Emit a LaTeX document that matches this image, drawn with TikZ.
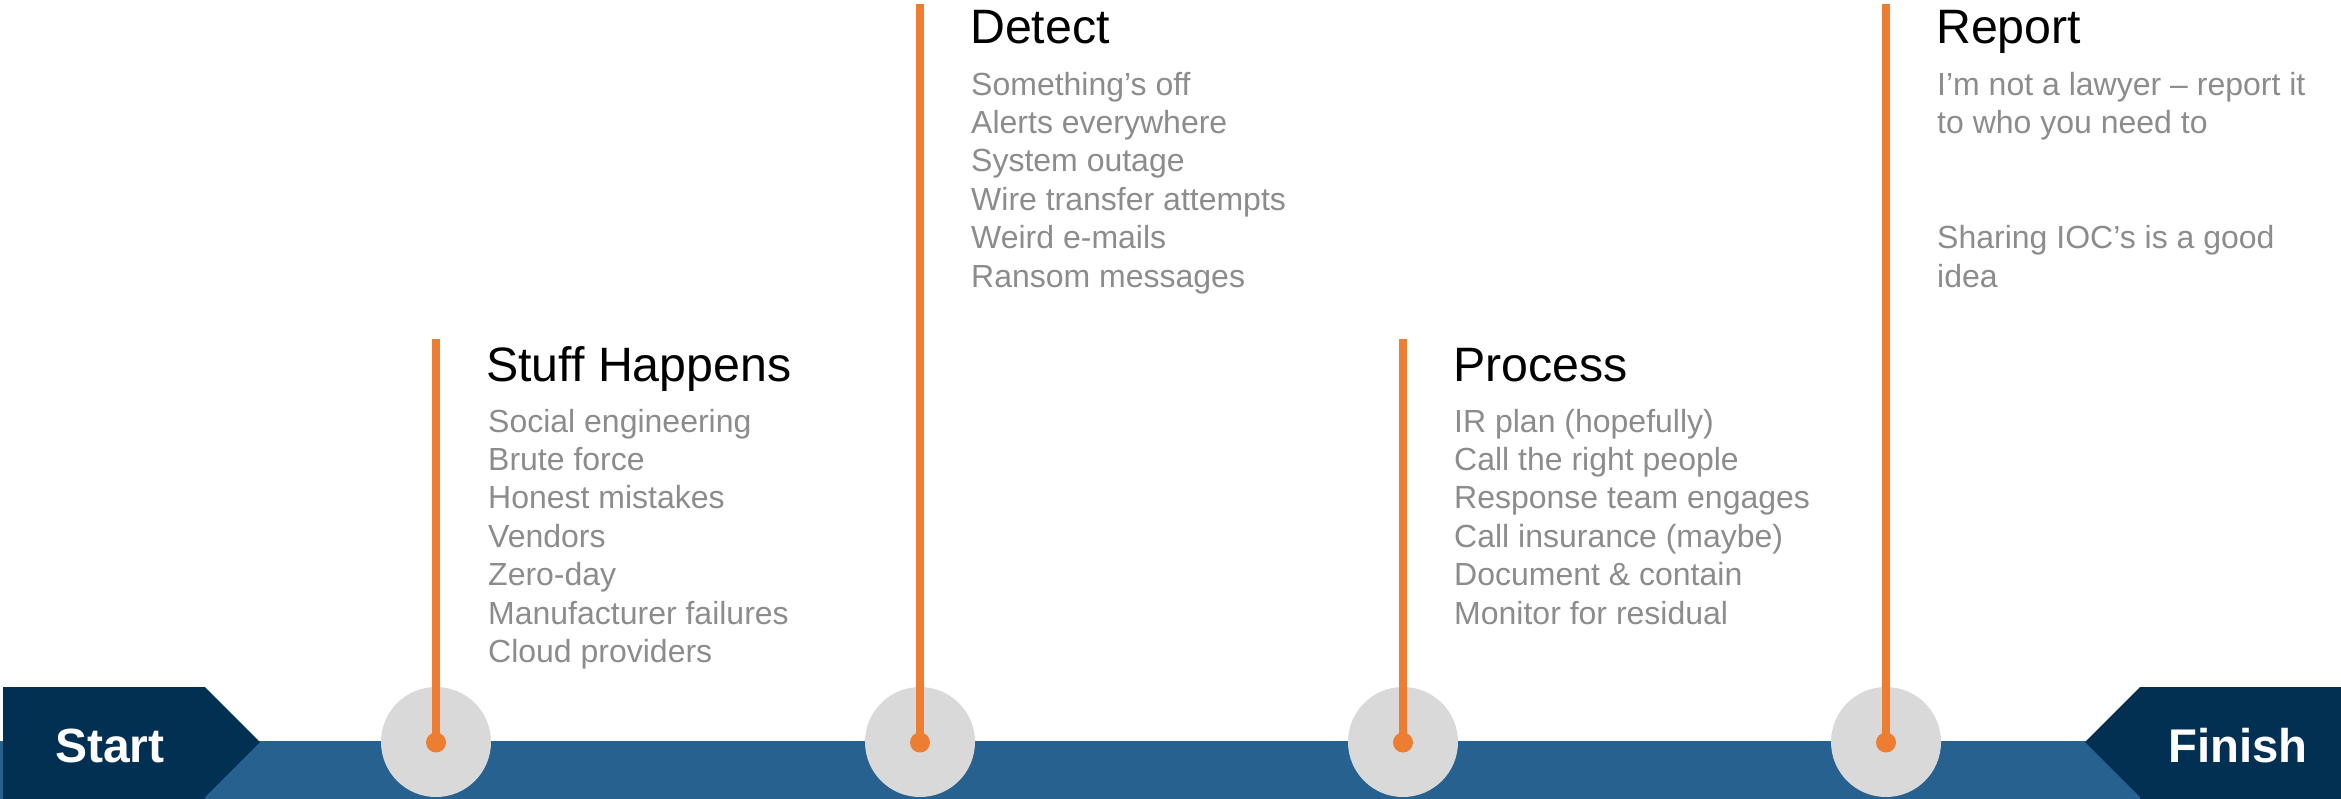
\documentclass[tikz,border=0pt]{standalone}
\usepackage{fontspec}
\setmainfont{Liberation Sans}
\definecolor{band}{RGB}{38,97,144}
\definecolor{navy}{RGB}{2,48,82}
\definecolor{orng}{RGB}{237,125,49}
\definecolor{disc}{RGB}{217,217,217}
\definecolor{itemgray}{RGB}{140,140,140}
\tikzset{
  title/.style={anchor=base west, inner sep=0pt, text=black, font=\fontsize{48.3}{52}\selectfont},
  item/.style={anchor=base west, inner sep=0pt, text=itemgray, font=\fontsize{32}{38}\selectfont},
  endlabel/.style={anchor=base west, inner sep=0pt, text=white, font=\fontsize{48}{52}\selectfont\bfseries},
  disk/.style={circle, fill=disc, minimum size=110pt, inner sep=0pt},
  dot/.style={circle, fill=orng, minimum size=20pt, inner sep=0pt},
  stem/.style={draw=orng, line width=8.5pt}
}
\begin{document}
\begin{tikzpicture}[x=1pt,y=-1pt]
\useasboundingbox (0,0) rectangle (2341,798);
% band
\fill[band] (0,741) rectangle (2341,800);
% start / finish chevrons
\fill[navy] (3,687) -- (205,687) -- (260,742) -- (205,797) -- (205,800) -- (3,800) -- cycle;
\fill[navy] (2341,687) -- (2140,687) -- (2085,742) -- (2140,797) -- (2140,800) -- (2341,800) -- cycle;
\node[endlabel] (start) at (55,762) {Start};
\node[endlabel, font=\fontsize{47.3}{52}\selectfont\bfseries] (finish) at (2168,762) {Finish};
% discs, dots, stems
\foreach \i/\x/\top in {1/436/339, 2/920/4, 3/1403/339, 4/1886/4}{
  \node[disk] (c\i) at (\x,742) {};
  \node[dot] (d\i) at (\x,742.5) {};
  \coordinate (t\i) at (\x,\top);
  \draw[stem] (t\i) -- (d\i.center);
}
% titles
\node[title] (h1) at (486,381) {Stuff Happens};
\node[title] (h2) at (970,43) {Detect};
\node[title] (h3) at (1453,381) {Process};
\node[title] (h4) at (1936,43) {Report};
% items
\foreach \t [count=\i] in {Social engineering, Brute force, Honest mistakes, Vendors, Zero-day, Manufacturer failures, Cloud providers}
  \node[item] (a\i) at (488,{432+38.4*(\i-1)}) {\t};
\foreach \t [count=\i] in {Something’s off, Alerts everywhere, System outage, Wire transfer attempts, Weird e-mails, Ransom messages}
  \node[item] (b\i) at (971,{95+38.4*(\i-1)}) {\t};
\foreach \t [count=\i] in {IR plan (hopefully), Call the right people, Response team engages, Call insurance (maybe), Document \& contain, Monitor for residual}
  \node[item] (p\i) at (1454,{432+38.4*(\i-1)}) {\t};
\node[item] (r1) at (1937,95) {I’m not a lawyer – report it};
\node[item] (r2) at (1937,133.4) {to who you need to};
\node[item] (r3) at (1937,248.6) {Sharing IOC’s is a good};
\node[item] (r4) at (1937,287) {idea};
\end{tikzpicture}
\end{document}
